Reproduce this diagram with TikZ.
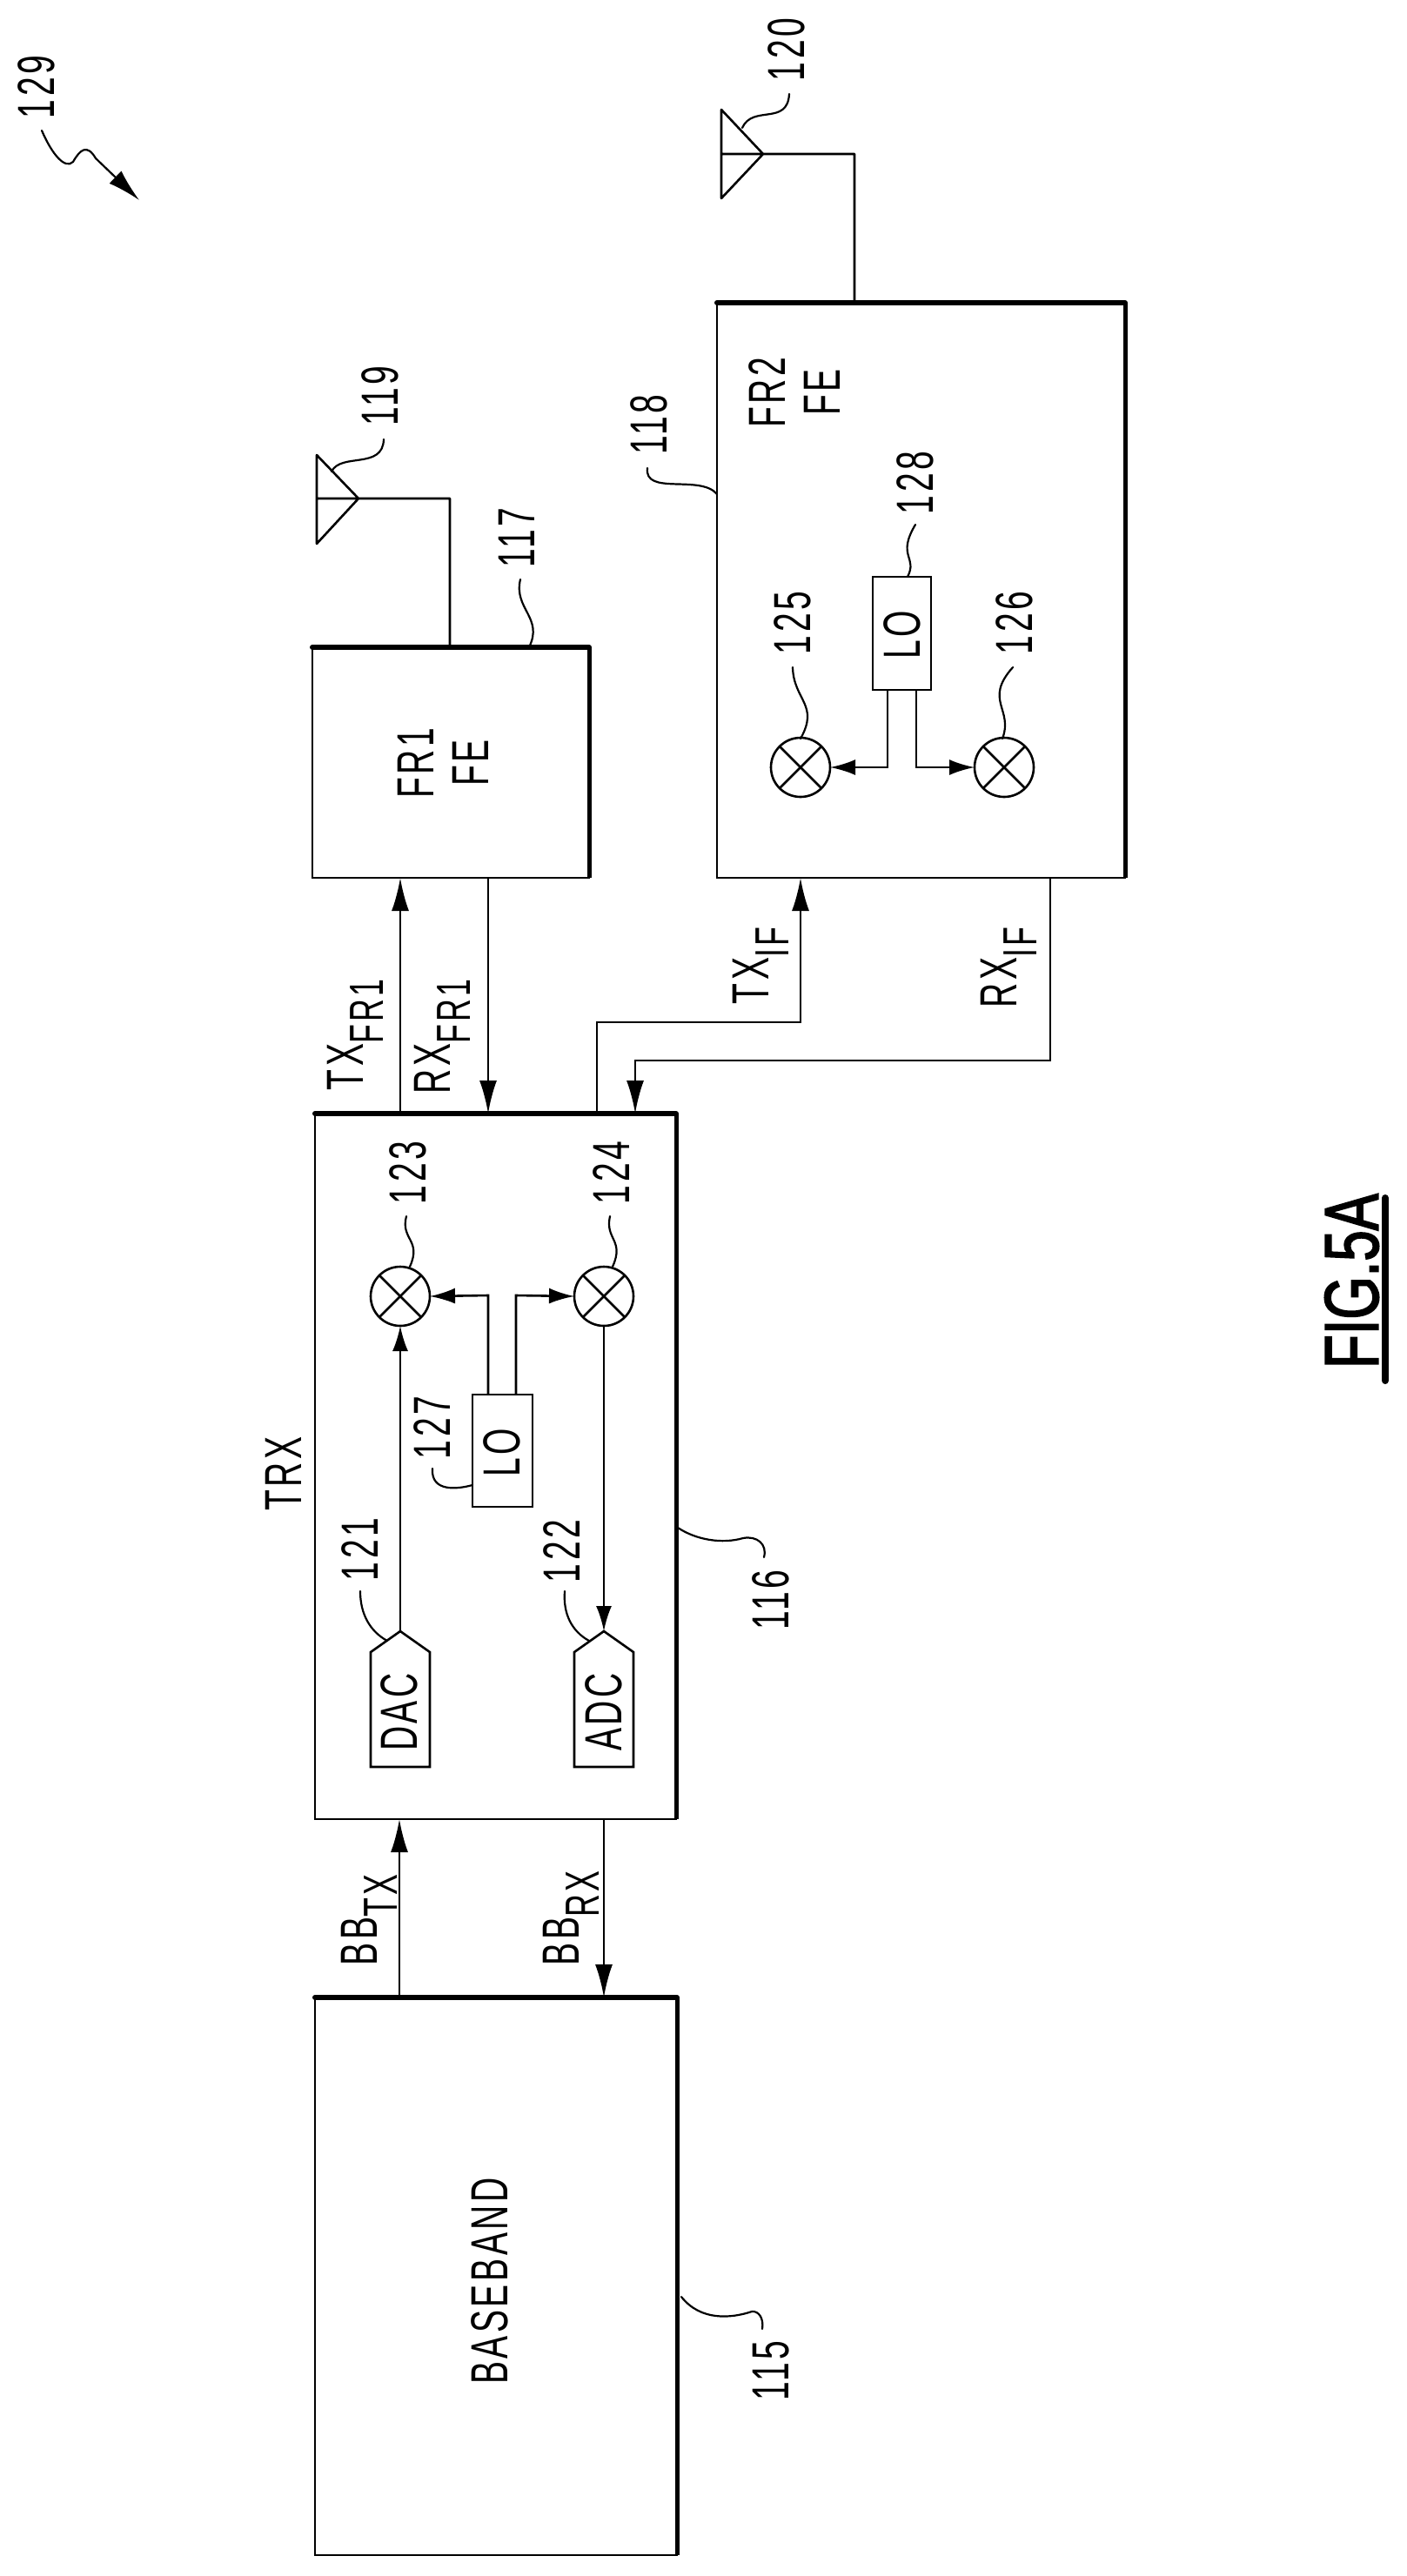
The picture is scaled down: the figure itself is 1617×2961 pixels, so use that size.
\documentclass[tikz,border=0pt]{standalone}
\usepackage{fontspec}
\usetikzlibrary{arrows.meta}
\setmainfont[FakeStretch=0.65,LetterSpace=6]{Liberation Sans}
\newfontfamily\figfont[FakeStretch=0.72,FakeBold=2]{Liberation Sans}
\newcommand{\lbl}{\fontsize{60}{63}\selectfont}
\newcommand{\subs}[1]{\raisebox{-23pt}{\fontsize{55}{60}\selectfont #1}}
\tikzset{
  x=1pt,y=-1pt,
  heavy/.style={line width=6pt,line cap=round},
  block/.style={draw=black,line width=2.6pt,inner sep=0pt,outer sep=0pt,rectangle},
  txt/.style={inner sep=0pt,outer sep=0pt,rotate=90,font=\lbl,align=center},
  sig/.style={txt,anchor=base west},
  conn/.style={line width=2.6pt},
  big/.style={conn,-{Latex[length=38pt,width=20pt]}},
  small/.style={conn,-{Latex[length=29pt,width=18pt]}},
  lead/.style={line width=2.2pt,line cap=round},
  mixer/.style={draw=black,line width=2.6pt,circle,minimum size=68pt,inner sep=0pt,outer sep=0pt},
}
\begin{document}
\begin{tikzpicture}
\useasboundingbox (0,0) rectangle (1617,2961);
% ---- main blocks
\node[block,minimum width=416pt,minimum height=641pt] (bb) at (570,2616.5) {};
\node[block,minimum width=415pt,minimum height=811pt] (trx) at (569.5,1685.5) {};
\node[block,minimum width=318pt,minimum height=265pt] (fr1) at (518,876.5) {};
\node[block,minimum width=469pt,minimum height=661pt] (fr2) at (1058.5,678.5) {};
\foreach \b in {bb,trx,fr1,fr2}{\draw[heavy] (\b.north west) -- (\b.north east);\draw[line width=5pt] (\b.north east) -- (\b.south east);}
% ---- inner blocks
\node[block,minimum width=69pt,minimum height=129pt] (lo1) at (577.5,1667.5) {};
\node[block,minimum width=67pt,minimum height=130pt] (lo2) at (1036.5,728) {};
\node[mixer] (m123) at (460,1490) {};
\node[mixer] (m124) at (694,1490) {};
\node[mixer] (m125) at (920,882) {};
\node[mixer] (m126) at (1154,882) {};
\foreach \m in {m123,m124,m125,m126}{\draw[conn] (\m.45) -- (\m.225) (\m.135) -- (\m.315);}
\coordinate (dact) at (460,1875);
\coordinate (adct) at (694,1875);
\draw[conn,line join=miter] (dact) -- (494,1899) -- (494,2031) -- (426,2031) -- (426,1899) -- cycle;
\draw[conn,line join=miter] (adct) -- (728,1899) -- (728,2031) -- (660,2031) -- (660,1899) -- cycle;
% ---- antennas
\coordinate (a119) at (412,573);
\coordinate (a120) at (877,177);
\draw[conn,line join=round] (a119) -- (364,523) -- (364,625) -- cycle (364,573) -- (a119) -- (517,573) -- (517,744);
\draw[conn,line join=round] (a120) -- (829,126) -- (829,228) -- cycle (829,177) -- (a120) -- (982,177) -- (982,348);
% ---- connectors
\draw[big] (459,2296) -- (459,2091);
\draw[big] (694,2091) -- (694,2296);
\draw[big] (460,1280) -- (460,1009);
\draw[big] (561,1009) -- (561,1280);
\draw[big] (686,1280) -- (686,1175) -- (920,1175) -- (920,1009);
\draw[big] (1207,1009) -- (1207,1219) -- (730,1219) -- (730,1280);
\draw[small] (dact) -- (m123.south);
\draw[small] (m124.south) -- (adct);
\draw[small] (561,1603) -- (561,1489) -- (m123.east);
\draw[small] (593,1603) -- (593,1489) -- (m124.west);
\draw[small] (1020,793) -- (1020,882) -- (m125.east);
\draw[small] (1053,793) -- (1053,882) -- (m126.west);
% ---- texts in blocks
\node[txt] (tbb) at (563,2622) {BASEBAND};
\node[txt] (ttrx) at (326,1694) {TRX};
\node[txt] (tfr1) at (509,877) {FR1\\FE};
\node[txt] (tfr2) at (913,451) {FR2\\FE};
\node[txt] (tlo1) at (577,1670) {LO};
\node[txt] (tlo2) at (1037,730) {LO};
\node[txt] (tdac) at (459,1968) {DAC};
\node[txt] (tadc) at (694,1968) {ADC};
% ---- signal labels
\node[sig] (sbbtx) at (433,2259) {BB\subs{TX}};
\node[sig] (sbbrx) at (665,2259) {BB\subs{RX}};
\node[sig] (stxf) at (417,1253) {TX\subs{FR1}};
\node[sig] (srxf) at (517,1257) {RX\subs{FR1}};
\node[sig] (stxi) at (883,1154) {TX\subs{IF}};
\node[sig] (srxi) at (1168,1158) {RX\subs{IF}};
% ---- reference numerals
\node[txt] (n115) at (886,2725) {115};
\node[txt] (n116) at (886,1839) {116};
\node[txt] (n117) at (594,618) {117};
\node[txt] (n118) at (746,488) {118};
\node[txt] (n119) at (437,455) {119};
\node[txt] (n120) at (904,57) {120};
\node[txt] (n121) at (414,1781) {121};
\node[txt] (n122) at (646,1783) {122};
\node[txt] (n123) at (469,1348) {123};
\node[txt] (n124) at (703,1348) {124};
\node[txt] (n125) at (911,716) {125};
\node[txt] (n126) at (1166,716) {126};
\node[txt] (n127) at (497,1641) {127};
\node[txt] (n128) at (1052,555) {128};
\node[txt] (n129) at (42,100) {129};
% ---- leaders
\draw[lead] (783,2640) .. controls (805,2668) and (840,2665) .. (864,2657) .. controls (872,2656) and (878,2665) .. (876,2677);
\draw[lead] (779,1756) .. controls (800,1770) and (830,1775) .. (854,1768) .. controls (870,1765) and (882,1775) .. (878,1790);
\draw[lead] (608,744) .. controls (625,710) and (590,700) .. (598,666);
\draw[lead] (824,568) .. controls (805,545) and (740,570) .. (744,538);
\draw[lead] (381,542) .. controls (392,520) and (440,540) .. (441,505);
\draw[lead] (853,147) .. controls (865,120) and (905,145) .. (907,108);
\draw[lead] (445,1886) .. controls (425,1875) and (414,1855) .. (414,1829);
\draw[lead] (677,1886) .. controls (657,1875) and (647,1855) .. (649,1829);
\draw[lead] (471,1456) .. controls (485,1425) and (460,1425) .. (467,1398);
\draw[lead] (704,1456) .. controls (718,1425) and (695,1425) .. (701,1398);
\draw[lead] (920,849) .. controls (942,810) and (912,805) .. (911,767);
\draw[lead] (1152,849) .. controls (1165,815) and (1130,805) .. (1164,767);
\draw[lead] (lo1.south west) ++(0,-25) .. controls (525,1712) and (495,1715) .. (497,1688);
\draw[lead] (1043,663) .. controls (1055,640) and (1030,640) .. (1052,603);
\draw[lead,-{Latex[length=38pt,width=20pt]}] (48,150) .. controls (60,178) and (75,195) .. (84,186) .. controls (92,172) and (100,165) .. (110,182) -- (160,230);
% ---- title
\node[inner sep=0pt,outer sep=0pt,rotate=90,font=\figfont\fontsize{88}{90}\selectfont] (title) at (1553.5,1472.5) {FIG.5A};
\coordinate (ula) at (1592,1587);
\coordinate (ulb) at (1592,1377);
\draw[line width=8pt,line cap=round] (ula) -- (ulb);
\end{tikzpicture}
\end{document}
